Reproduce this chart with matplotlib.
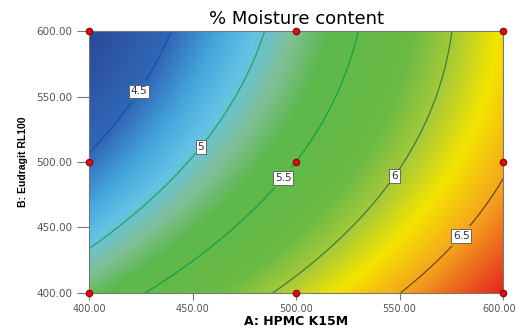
import numpy as np
import matplotlib
matplotlib.use('Agg')
import matplotlib.pyplot as plt
import matplotlib.transforms as mtransforms
from matplotlib.colors import LinearSegmentedColormap

# design points (A: HPMC K15M, B: Eudragit RL100) and response
hpmc = [400, 500, 600]
eudragit = [400, 500, 600]
# rows = eudragit 400, 500, 600 ; cols = hpmc 400, 500, 600
moisture = [[5.28, 6.09, 6.90],
            [4.54, 5.50, 6.46],
            [4.06, 5.17, 6.27]]

levels = [4.5, 5.0, 5.5, 6.0, 6.5]
level_text = ['4.5', '5', '5.5', '6', '6.5']
line_colors = ['#1d4f9c', '#1ea56a', '#12a04c', '#3d7d3d', '#6e4428']
label_pos = [(422, 556), (452, 514), (493, 489), (546, 491), (578, 446)]

ticks = [400, 450, 500, 550, 600]


# quadratic model fit, in coded units
A, B = np.meshgrid(hpmc, eudragit)
xa = (A.ravel() - 500) / 100
xb = (B.ravel() - 500) / 100
X = np.column_stack([np.ones_like(xa), xa, xb, xa * xb, xa ** 2, xb ** 2])
coef = np.linalg.lstsq(X, np.array(moisture).ravel(), rcond=None)[0]

def model(a, b):
    a = (a - 500) / 100
    b = (b - 500) / 100
    return coef[0] + coef[1] * a + coef[2] * b + coef[3] * a * b + coef[4] * a ** 2 + coef[5] * b ** 2

ga, gb = np.meshgrid(np.linspace(400, 600, 300), np.linspace(400, 600, 300))
z = model(ga, gb)
zmin, zmax = z.min(), z.max()

def p(v):
    return (v - zmin) / (zmax - zmin)

cmap = LinearSegmentedColormap.from_list('de', [
    (0.0, '#2a4a98'),
    (p(4.5), '#3068b8'),
    (p(4.75), '#45a6dc'),
    (p(4.95), '#64c3e4'),
    (p(5.15), '#80bf98'),
    (p(5.35), '#5cb84b'),
    (p(5.8), '#6cbb44'),
    (p(6.02), '#a8ca38'),
    (p(6.25), '#f4e400'),
    (p(6.5), '#f5a81c'),
    (1.0, '#e32620'),
])

fig = plt.figure(figsize=(5.18, 3.28), dpi=100)
ax = fig.add_axes([0.172, 0.107, 0.799, 0.798])

ax.imshow(z, origin='lower', extent=[400, 600, 400, 600], aspect='auto',
          cmap=cmap, vmin=zmin, vmax=zmax, interpolation='bilinear')

cs = ax.contour(ga, gb, z, levels=levels, colors=line_colors, linewidths=0.9)
fmt = dict(zip(levels, level_text))
labels = ax.clabel(cs, fmt=fmt, fontsize=7.5, colors='#333333', inline=True,
                   manual=label_pos)
for t in labels:
    t.set_rotation(0)
    t.set_bbox(dict(boxstyle='square,pad=0.18', fc='white', ec='#555555', lw=0.6))

# design points
ax.plot(A.ravel(), B.ravel(), 'o', color='#d4141a', markeredgecolor='#a00000',
        markersize=4.5, clip_on=False, zorder=5)

ax.set_xlim(400, 600)
ax.set_ylim(400, 600)
ax.set_xticks(ticks)
ax.set_yticks(ticks)
ax.set_xticklabels(['%.2f' % t for t in ticks])
ax.set_yticklabels(['%.2f' % t for t in ticks])
ax.tick_params(axis='x', direction='out', length=5, color='#777777', labelsize=7,
               labelcolor='#555555', pad=3)
ax.tick_params(axis='y', direction='out', length=9, color='#777777', labelsize=7.5,
               labelcolor='#555555', pad=3)
for s in ax.spines.values():
    s.set_color('#777777')
    s.set_linewidth(0.8)

# last x tick label sits against the right edge
last = ax.get_xticklabels()[-1]
last.set_transform(last.get_transform() + mtransforms.ScaledTranslation(-4 / 100, 0, fig.dpi_scale_trans))

ax.set_title('% Moisture content', fontsize=13, pad=5, family='DejaVu Sans')
ax.set_xlabel('A: HPMC K15M', fontsize=9, fontweight='bold', labelpad=1)
ax.set_ylabel('B: Eudragit RL100', fontsize=7.5, fontweight='bold',
              family='Liberation Sans', labelpad=6)

fig.savefig('out.png', dpi=100)
